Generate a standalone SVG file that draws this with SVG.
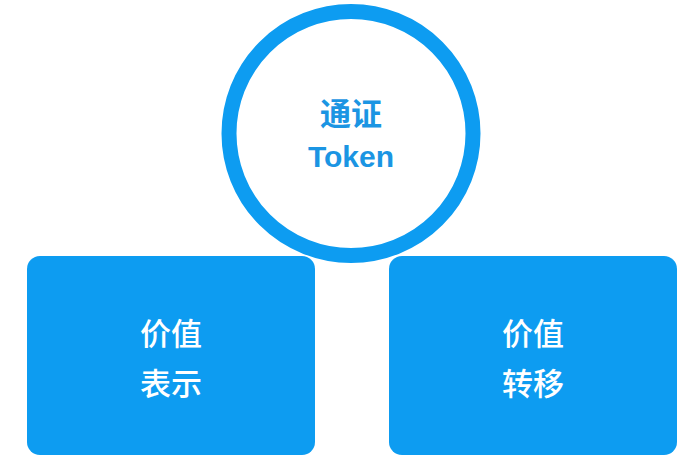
<svg xmlns="http://www.w3.org/2000/svg" width="700" height="470" viewBox="0 0 700 470">
  <style>
    .box { fill: #0d9cf1; }
    .ring { fill: #ffffff; stroke: #0d9cf1; stroke-width: 15; }
    .t { font-family: "Noto Sans CJK SC", "Liberation Sans", sans-serif; font-size: 31px; font-weight: 500; text-anchor: middle; }
    .tw { fill: #ffffff; }
    .tb { fill: #1b95e3; font-weight: 700; }
    .lat { font-family: "Liberation Sans", "Noto Sans CJK SC", sans-serif; font-size: 30px; }
  </style>
  <rect width="700" height="470" fill="#ffffff"/>
  <g id="connectors"></g>
  <g id="node-value-representation">
    <rect class="box" x="27" y="256" width="288" height="199" rx="13"/>
    <text class="t tw" x="171" y="345">价值</text>
    <text class="t tw" x="171" y="395">表示</text>
  </g>
  <g id="node-value-transfer">
    <rect class="box" x="389" y="256" width="288" height="199" rx="13"/>
    <text class="t tw" x="533" y="345">价值</text>
    <text class="t tw" x="533" y="395">转移</text>
  </g>
  <g id="node-token">
    <circle class="ring" cx="351" cy="133.5" r="122"/>
    <text class="t tb" x="351" y="125">通证</text>
    <text class="t tb lat" x="351" y="167">Token</text>
  </g>
</svg>
